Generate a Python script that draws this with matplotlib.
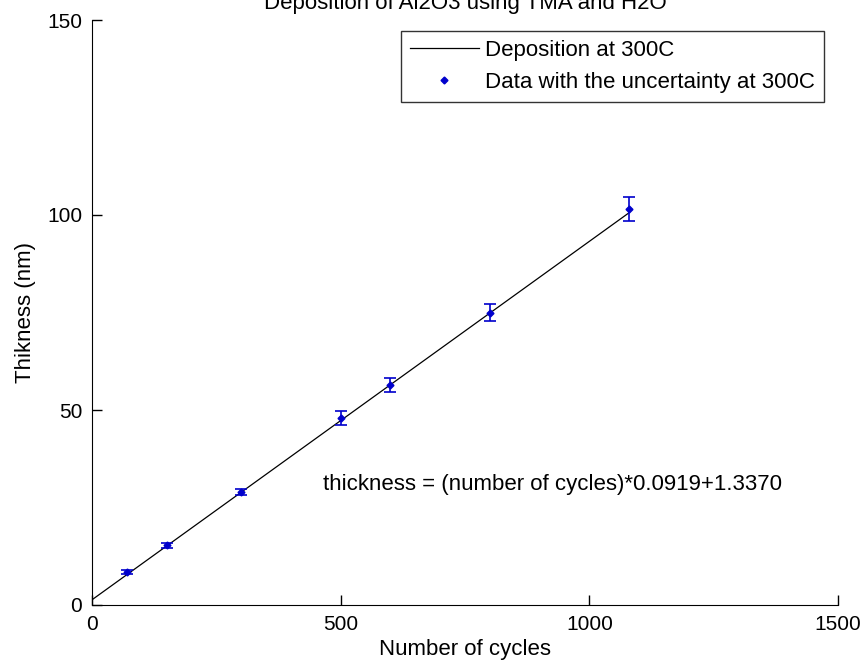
import numpy as np
import matplotlib
matplotlib.use('Agg')
from matplotlib import pyplot as plt

plt.rcParams['font.family'] = ['Liberation Sans', 'DejaVu Sans']

# measured data (cycles, thickness nm, uncertainty nm)
cycles = [70, 150, 300, 500, 600, 800, 1080]
thick = [8.5, 15.3, 29.0, 48.0, 56.5, 75.0, 101.5]
err = [0.5, 0.6, 0.8, 1.8, 1.8, 2.3, 3.0]

# linear fit  thickness = slope*cycles + intercept
slope = 0.0919
intercept = 1.3370
fit_x = np.array([0, 1080])
fit_y = slope * fit_x + intercept

fig = plt.figure(figsize=(8.62, 6.67), dpi=100)
ax = fig.add_axes([92/862, 1-605/667, (838-92)/862, (605-20)/667])

line, = ax.plot(fit_x, fit_y, color='black', lw=0.9)
eb = ax.errorbar(cycles, thick, yerr=err, fmt='D', color='#0000cc', ms=3.5,
                 elinewidth=1.2, capsize=4, capthick=1.2)

ax.text(465, 31, 'thickness = (number of cycles)*0.0919+1.3370',
        fontsize=16, va='center', ha='left')

ax.set_xlim(0, 1500)
ax.set_ylim(0, 150)
ax.set_xticks([0, 500, 1000, 1500])
ax.set_yticks([0, 50, 100, 150])
ax.tick_params(direction='in', length=7, labelsize=15, width=1, pad=7)
for s in ['top', 'right']:
    ax.spines[s].set_visible(False)

ax.set_xlabel('Number of cycles', fontsize=16, labelpad=4)
ax.set_ylabel('Thikness (nm)', fontsize=16, labelpad=8)
ax.set_title('Deposition of Al2O3 using TMA and H2O', fontsize=16, pad=8)

leg = ax.legend([line, eb[0]], ['Deposition at 300C', 'Data with the uncertainty at 300C'],
                loc='upper right', bbox_to_anchor=(1.0 - 14/746, 1.0 - 11/585),
                fontsize=16, frameon=True, fancybox=False, edgecolor='black',
                handlelength=3.1, handletextpad=0.3, borderpad=0.4,
                labelspacing=0.5, borderaxespad=0)
leg.get_frame().set_linewidth(1)

fig.savefig('out.png', dpi=100)
